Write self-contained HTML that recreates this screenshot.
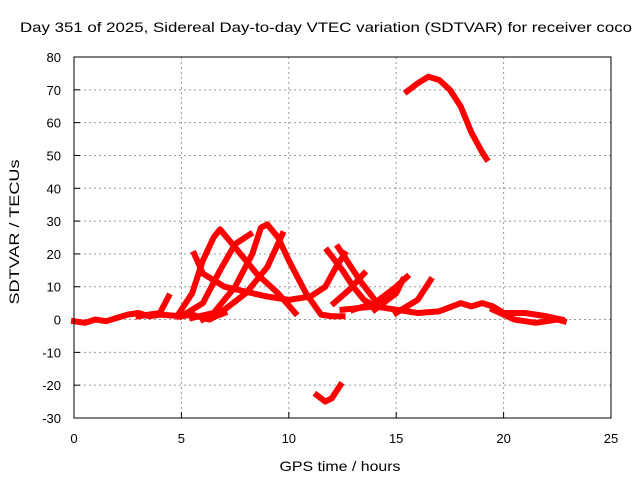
<!DOCTYPE html>
<html><head><meta charset="utf-8"><style>
body{margin:0;background:#fff}
svg text{font-family:"Liberation Sans",sans-serif;font-size:13px;fill:#000}
</style></head><body>
<svg id="chart" width="640" height="480">
<text x="326" y="32" text-anchor="middle" textLength="612" lengthAdjust="spacingAndGlyphs" style="font-size:14px">Day 351 of 2025, Sidereal Day-to-day VTEC variation (SDTVAR) for receiver coco</text>
<text x="340" y="471" text-anchor="middle" textLength="121" lengthAdjust="spacingAndGlyphs" style="font-size:14px">GPS time / hours</text>
<text transform="translate(19,232) rotate(-90)" text-anchor="middle" textLength="145" lengthAdjust="spacingAndGlyphs" style="font-size:14px">SDTVAR / TECUs</text>
<g id="grid"></g><g id="ticks"></g><g id="series"></g>
<rect x="74" y="57" width="537" height="361" fill="none" stroke="#000" stroke-width="1"/>
</svg>
<script>
const xTicks=[0,5,10,15,20,25];
const yTicks=[-30,-20,-10,0,10,20,30,40,50,60,70,80];
const arcA=[[4.8,1],[5.5,8],[6,18],[6.5,25],[6.8,27.5],[7.5,22],[8.5,14],[9.5,8],[10.3,2]];
const arcB=[[5,1],[6,5],[6.8,15],[7.5,23],[8.2,26]];
const arcC=[[5.5,0.5],[6.5,2],[7.5,10],[8.3,20],[8.7,28],[9,29],[9.5,25],[10,18],[10.8,8],[11.5,1.5],[12,1],[12.5,1]];
const arcD=[[6,0],[7,3],[8,8],[9,16],[9.7,26]];
const arcE=[[5.6,20],[6,14],[7,10],[8,8.5],[9,7],[10,6],[11,7],[11.7,10],[12.2,16],[12.6,20]];
const arcF=[[11.8,21],[12.5,15],[13,10],[13.5,6],[14,4]];
const arcG=[[12.3,22],[12.8,17],[13.3,12],[14,6]];
const arcH=[[12.1,5],[12.8,9],[13.5,14]];
const arcI=[[13,3],[14,5],[15,10],[15.5,13]];
const arcJ=[[14,3],[15,8],[15.3,12]];
const arcK=[[15,2],[16,6],[16.6,12]];
const baseLine=[[0,-0.5],[0.5,-1],[1,0],[1.5,-0.5],[2,0.5],[2.5,1.5],[3,2],[3.5,1],[4,1.5],[5,1],[5.5,1.5],[6,0.5],[6.3,0],[6.6,1],[7,2]];
const riseLine=[[3,1],[4,2],[4.4,7]];
const tailLine=[[12.5,3],[14,4],[15,3],[16,2],[17,2.5],[18,5],[18.5,4],[19,5],[19.5,4],[20,2],[21,2],[22,1],[22.7,0]];
const tailLine2=[[19.5,3],[20.5,0],[21.5,-1],[22.5,0],[22.8,-0.5]];
const negLine=[[11.3,-23],[11.7,-25],[12,-24],[12.4,-20]];
const highLine=[[15.5,69.5],[16,72],[16.5,74],[17,73],[17.5,70],[18,65],[18.5,57],[19,51],[19.2,49]];
const allSeries=[baseLine,riseLine,arcA,arcB,arcC,arcD,arcE,arcF,arcG,arcH,arcI,arcJ,arcK,tailLine,tailLine2,negLine,highLine];
const X=v=>74+v*(537/25), Y=v=>418-(v+30)*(361/110);
const NS="http://www.w3.org/2000/svg";
const gG=document.getElementById('grid'),gT=document.getElementById('ticks'),gS=document.getElementById('series');
function mk(tag,a,p){const e=document.createElementNS(NS,tag);for(const k in a)e.setAttribute(k,a[k]);p.appendChild(e);return e;}
xTicks.forEach(v=>{
 if(v>0&&v<25){const l=mk('line',{x1:X(v),x2:X(v),y1:57,y2:418,stroke:'#999','stroke-dasharray':'2,3'},gG);
 
 }
 const tx=mk('text',{x:X(v),y:443,'text-anchor':'middle'},gT);tx.textContent=v;
 
 
 mk('line',{x1:X(v),x2:X(v),y1:418,y2:412,stroke:'#000'},gT);
});
yTicks.forEach(v=>{
 if(v>-30&&v<80){const l=mk('line',{x1:74,x2:611,y1:Y(v),y2:Y(v),stroke:'#999','stroke-dasharray':'2,3'},gG);
 
 }
 const tx=mk('text',{x:61,y:Y(v)+5,'text-anchor':'end'},gT);tx.textContent=v;
 
 
 mk('line',{x1:74,x2:80,y1:Y(v),y2:Y(v),stroke:'#000'},gT);
});
allSeries.forEach(ser=>{
 const p=mk('polyline',{points:ser.map(d=>X(d[0])+','+Y(d[1])).join(' '),fill:'none',stroke:'#f00','stroke-width':6,'stroke-linejoin':'round','stroke-linecap':'square'},gS);
 
 
});
</script>
</body></html>
